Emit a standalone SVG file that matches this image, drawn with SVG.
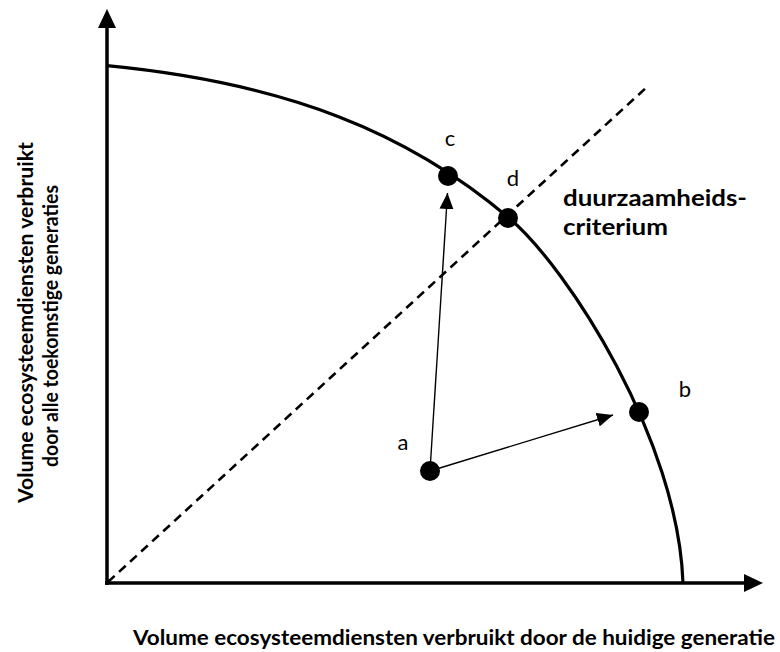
<svg xmlns="http://www.w3.org/2000/svg" width="780" height="652" viewBox="0 0 780 652">
<style>
.axis{stroke:#000;stroke-width:3.5;fill:none}
.curve{stroke:#000;stroke-width:3.2;fill:none}
.dash{stroke:#000;stroke-width:2.6;fill:none;stroke-dasharray:9 6}
.arr{stroke:#000;stroke-width:1.4;fill:none;marker-end:url(#ah)}
.dot{fill:#000}
.lbl{font-family:Lato,"Liberation Sans",sans-serif;font-size:22px;fill:#000}
.bold{font-family:Lato,"Liberation Sans",sans-serif;font-weight:bold;fill:#000}
</style>
<defs>
<marker id="ah" markerUnits="userSpaceOnUse" markerWidth="16" markerHeight="14" refX="16" refY="7" orient="auto">
<path d="M0,0 L16,7 L0,14 z" fill="#000"/>
</marker>
</defs>
<g id="axes">
<line class="axis" x1="107" y1="585" x2="107" y2="26"/>
<polygon points="107,9 98,28 116,28" fill="#000"/>
<line class="axis" x1="105" y1="583" x2="746" y2="583"/>
<polygon points="763,583 744,574 744,592" fill="#000"/>
</g>
<g id="frontier">
<path class="curve" d="M107,65.7 C287,83 409,133 509,218 C569,269 678,440 683,583"/>
</g>
<g id="criterion-line">
<line class="dash" x1="108" y1="582" x2="648" y2="86"/>
</g>
<g id="connectors">
<line class="arr" x1="430" y1="471" x2="447.5" y2="193"/>
<line class="arr" x1="430" y1="471" x2="613" y2="415"/>
</g>
<g id="node-a"><circle class="dot" cx="430" cy="471" r="10"/><text class="lbl" x="403" y="450" text-anchor="middle">a</text></g>
<g id="node-b"><circle class="dot" cx="639" cy="412" r="10"/><text class="lbl" x="685" y="397" text-anchor="middle">b</text></g>
<g id="node-c"><circle class="dot" cx="448" cy="176" r="10"/><text class="lbl" x="450" y="146" text-anchor="middle">c</text></g>
<g id="node-d"><circle class="dot" cx="508" cy="218" r="10"/><text class="lbl" x="513" y="186" text-anchor="middle">d</text></g>
<g id="criterion-label">
<text class="bold" font-size="23" x="563" y="206" textLength="184" lengthAdjust="spacingAndGlyphs">duurzaamheids-</text>
<text class="bold" font-size="23" x="563" y="235" textLength="105" lengthAdjust="spacingAndGlyphs">criterium</text>
</g>
<g id="x-label">
<text class="bold" font-size="20.5" x="133" y="645" textLength="642" lengthAdjust="spacingAndGlyphs">Volume ecosysteemdiensten verbruikt door de huidige generatie</text>
</g>
<g id="y-label">
<text class="bold" font-size="20" transform="translate(33,322.5) rotate(-90)" text-anchor="middle" textLength="361" lengthAdjust="spacingAndGlyphs">Volume ecosysteemdiensten verbruikt</text>
<text class="bold" font-size="20" transform="translate(58,326) rotate(-90)" text-anchor="middle" textLength="282" lengthAdjust="spacingAndGlyphs">door alle toekomstige generaties</text>
</g>
</svg>
